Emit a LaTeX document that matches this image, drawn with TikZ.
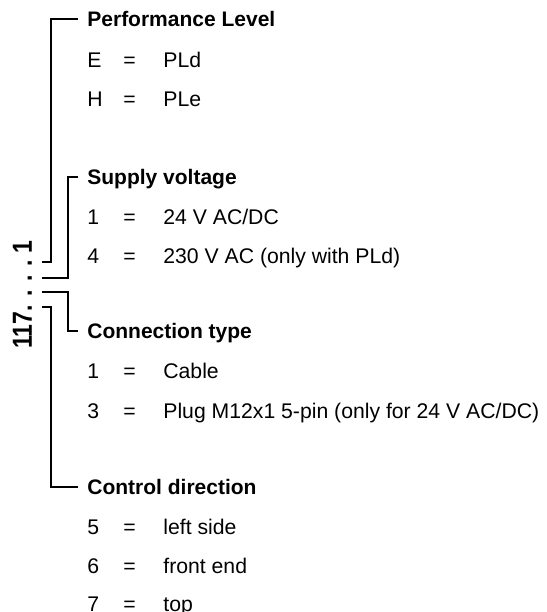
\documentclass[tikz,border=0pt]{standalone}
\usepackage{fontspec}
\setmainfont{Liberation Sans}
\usetikzlibrary{positioning}

\begin{document}
\begin{tikzpicture}[
  x=0.5pt, y=-0.5pt,
  font=\fontsize{10.6}{12.6}\selectfont,
  head/.style={anchor=west, inner sep=0pt, text height=7.6pt, text depth=0pt, font=\fontsize{10.5}{12.6}\selectfont\bfseries},
  cell/.style={anchor=base west, inner sep=0pt},
  bracket/.style={draw=black, line width=0.6pt},
  code/.style={anchor=base west, inner sep=0pt, rotate=90, font=\fontsize{11.5}{13}\selectfont\bfseries}
]
\useasboundingbox (0,0) rectangle (547,612);

% type code, read upwards
\node[code] (code) at (32,349) {\scalebox{1}[1.2]{117.\kern4.3pt.\kern4.3pt.\kern4.3pt.\kern3.4pt1}};

\coordinate (d1) at (42,262);
\coordinate (d2) at (42,278);
\coordinate (d3) at (42,292);
\coordinate (d4) at (42,307);

% headings
\node[head] (perf)   at (87,19)  {Performance Level};
\node[head] (supply) at (87,177) {Supply voltage};
\node[head] (conn)   at (87,331) {Connection type};
\node[head] (ctrl)   at (87,487) {Control direction};

% options
\foreach \k/\v/\y in {E/PLd/67, H/PLe/106,
    1/{24 V AC/DC}/224, 4/{230 V AC (only with PLd)}/263,
    1/Cable/378, 3/{Plug M12x1 5-pin (only for 24 V AC/DC)}/418,
    5/left side/534, 6/front end/573, 7/top/611} {
  \node[cell] (k\y) at (87,\y) {\k};
  \node[cell] (e\y) at (123,\y) {=};
  \node[cell] (v\y) at (163,\y) {\v};
}

% brackets
\draw[bracket] (d1) -- ++(9,0) |- ([xshift=-4.5pt]perf.west);
\draw[bracket] (d2) -- ++(26,0) |- ([xshift=-4.5pt]supply.west);
\draw[bracket] (d3) -- ++(26,0) |- ([xshift=-4.5pt]conn.west);
\draw[bracket] (d4) -- ++(9,0) |- ([xshift=-4.5pt]ctrl.west);

\end{tikzpicture}
\end{document}
